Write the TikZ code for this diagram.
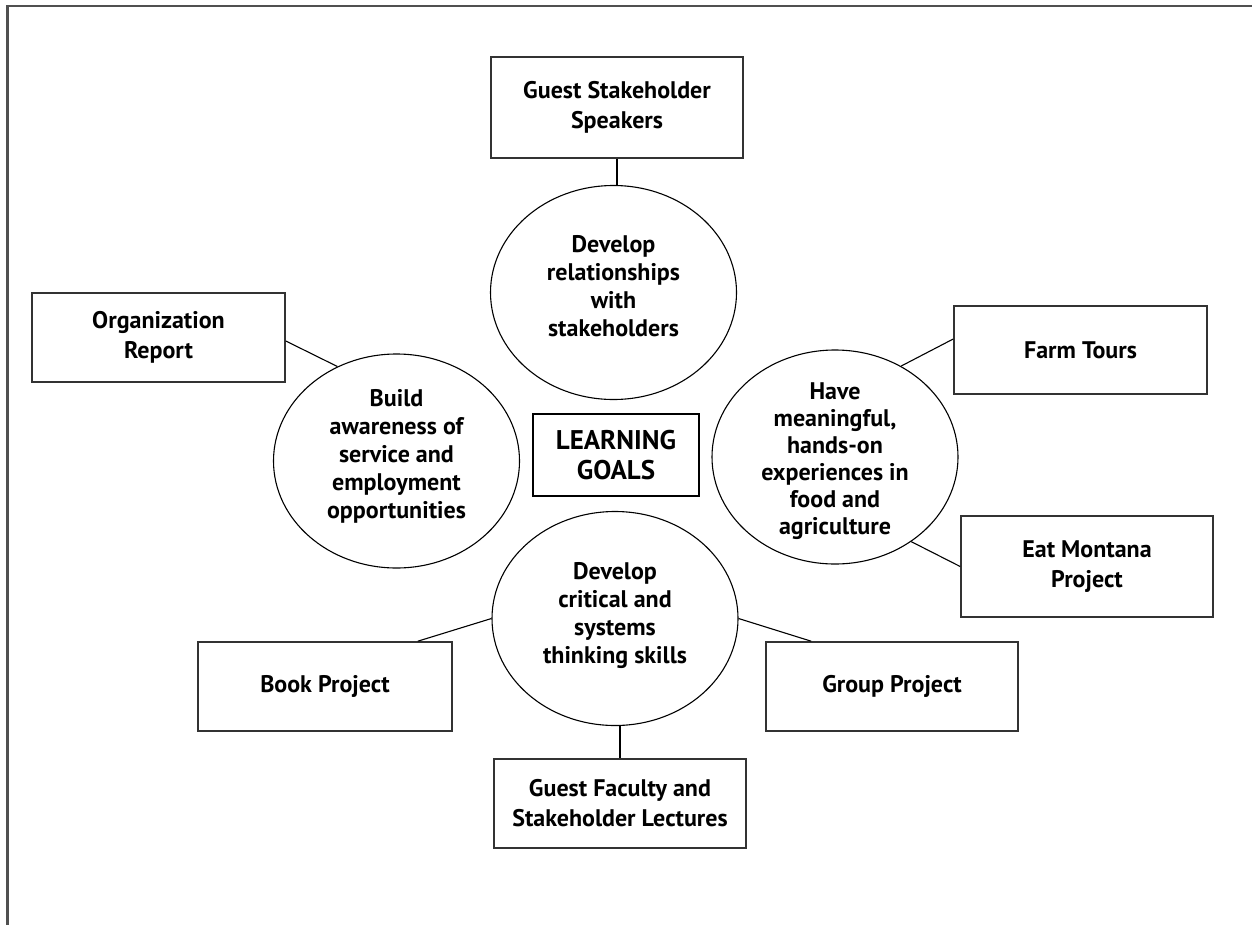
\documentclass[tikz,border=0pt]{standalone}
\usepackage{fontspec}
\setmainfont{PT Sans}
\usetikzlibrary{shapes.geometric,calc}
\definecolor{boxgray}{HTML}{333333}
\definecolor{framegray}{HTML}{505050}
\begin{document}
\begin{tikzpicture}[x=1pt,y=-1pt,
  goal/.style={ellipse, draw=black, line width=1.1pt, inner sep=0pt,
    minimum width=246pt, minimum height=214pt},
  goaltext/.style={inner sep=0pt, align=center,
    font=\bfseries\fontsize{24}{28}\selectfont},
  act/.style={rectangle, draw=boxgray, line width=1.6pt, inner sep=0pt,
    align=center, font=\bfseries\fontsize{24}{30}\selectfont},
  link/.style={draw=black, line width=1.1pt}]
\useasboundingbox (0,0) rectangle (1252,924);
\draw[framegray, line width=2.2pt] (7.5,930) -- (7.5,6) -- (1260,6);

% goals (ellipses)
\node[goal] (rel) at (613.5,292.5) {};
\node[goaltext] (relt) at ([yshift=6pt]rel.center) {Develop\\relationships\\with\\stakeholders};
\node[goal] (aware) at (396.5,461) {};
\node[goaltext] (awaret) at ([yshift=5pt]aware.center) {Build\\awareness of\\service and\\employment\\opportunities};
\node[goal] (hands) at (835,457) {};
\node[goaltext, font=\bfseries\fontsize{24}{27}\selectfont] (handst) at ([yshift=-4pt]hands.center) {Have\\meaningful,\\hands-on\\experiences in\\food and\\agriculture};
\node[goal] (crit) at (615,618.5) {};
\node[goaltext] (critt) at ([yshift=3pt]crit.center) {Develop\\critical and\\systems\\thinking skills};

% centre
\node[draw=black, line width=2.2pt, minimum width=166pt, minimum height=82pt,
  inner sep=0pt, align=center, font=\bfseries\fontsize{27}{30}\selectfont]
  (lg) at (616,455) {LEARNING\\GOALS};

% activities
\node[act, minimum width=252pt, minimum height=101pt] (speak) at (617,107.5) {Guest Stakeholder\\Speakers};
\node[act, minimum width=253pt, minimum height=89pt] (org) at (158.5,337.5) {Organization\\Report};
\node[act, minimum width=253pt, minimum height=88pt] (farm) at (1080.5,350) {Farm Tours};
\node[act, minimum width=252pt, minimum height=101pt] (eat) at (1087,566.5) {Eat Montana\\Project};
\node[act, minimum width=254pt, minimum height=89pt] (book) at (325,686.5) {Book Project};
\node[act, minimum width=252pt, minimum height=89pt] (group) at (892,686.5) {Group Project};
\node[act, minimum width=252pt, minimum height=89pt] (lect) at (620,803.5) {Guest Faculty and\\Stakeholder Lectures};

% connectors
\draw[link] (speak.south) -- (speak.south |- rel.north);
\draw[link] ([yshift=-3.5pt]org.east) -- (aware.122);
\draw[link] (hands.54) -- ([yshift=11pt]farm.west);
\draw[link] (hands.312) -- (eat.west);
\draw[link] (crit.180) -- ([xshift=-35pt]book.north east);
\draw[link] (crit.0) -- ([xshift=46pt]group.north west);
\draw[link] (crit.south -| lect.north) -- (lect.north);
\end{tikzpicture}
\end{document}
